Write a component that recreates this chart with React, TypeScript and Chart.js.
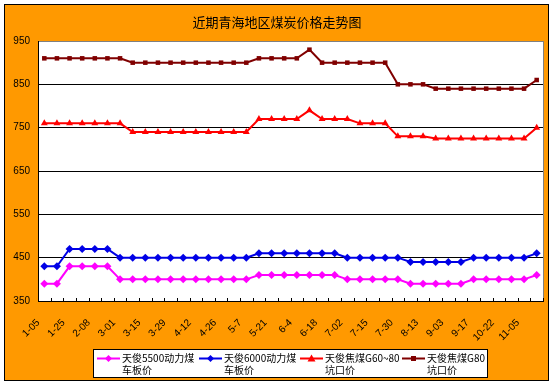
import React, { useEffect, useRef } from "react";
import { Chart, registerables } from "chart.js";

Chart.register(...registerables);

const titleText = "近期青海地区煤炭价格走势图";

const dateLabels = [
  "1-05", "1-25", "2-08", "3-01", "3-15", "3-29", "4-12", "4-26", "5-7", "5-21",
  "6-4", "6-18", "7-02", "7-15", "7-30", "8-13", "9-03", "9-17", "10-22", "11-05",
];
// 40 weekly points; only every other one carries a date label
const categories = dateLabels.flatMap((d) => [d, ""]);

const yMin = 350;
const yMax = 950;
const yStep = 100;

const tianjun5500 = [
  390, 390, 430, 430, 430, 430, 400, 400, 400, 400,
  400, 400, 400, 400, 400, 400, 400, 410, 410, 410,
  410, 410, 410, 410, 400, 400, 400, 400, 400, 390,
  390, 390, 390, 390, 400, 400, 400, 400, 400, 410,
];
const tianjun6000 = [
  430, 430, 470, 470, 470, 470, 450, 450, 450, 450,
  450, 450, 450, 450, 450, 450, 450, 460, 460, 460,
  460, 460, 460, 460, 450, 450, 450, 450, 450, 440,
  440, 440, 440, 440, 450, 450, 450, 450, 450, 460,
];
const jiaomeiG60_80 = [
  760, 760, 760, 760, 760, 760, 760, 740, 740, 740,
  740, 740, 740, 740, 740, 740, 740, 770, 770, 770,
  770, 790, 770, 770, 770, 760, 760, 760, 730, 730,
  730, 725, 725, 725, 725, 725, 725, 725, 725, 750,
];
const jiaomeiG80 = [
  910, 910, 910, 910, 910, 910, 910, 900, 900, 900,
  900, 900, 900, 900, 900, 900, 900, 910, 910, 910,
  910, 930, 900, 900, 900, 900, 900, 900, 850, 850,
  850, 840, 840, 840, 840, 840, 840, 840, 840, 860,
];

const seriesNames: string[][] = [
  ["天俊5500动力煤", "车板价"],
  ["天俊6000动力煤", "车板价"],
  ["天俊焦煤G60~80", "坑口价"],
  ["天俊焦煤G80", "坑口价"],
];
const seriesColors = ["#FF00FF", "#0000E6", "#FF0000", "#800000"];
const seriesPointStyles = ["rectRot", "rectRot", "triangle", "rect"];

const FONT = "'Noto Sans CJK SC', 'Liberation Sans', sans-serif";

function drawMarker(ctx: CanvasRenderingContext2D, style: string, x: number, y: number, color: string) {
  ctx.save();
  ctx.fillStyle = color;
  ctx.beginPath();
  if (style === "rectRot") {
    ctx.moveTo(x, y - 3.5);
    ctx.lineTo(x + 3.5, y);
    ctx.lineTo(x, y + 3.5);
    ctx.lineTo(x - 3.5, y);
  } else if (style === "triangle") {
    ctx.moveTo(x, y - 4);
    ctx.lineTo(x + 4, y + 3);
    ctx.lineTo(x - 4, y + 3);
  } else {
    ctx.rect(x - 2.5, y - 2.5, 5, 5);
  }
  ctx.closePath();
  ctx.fill();
  ctx.restore();
}

const framePlugin = {
  id: "frame",
  beforeDraw(chart: any) {
    const { ctx, chartArea } = chart;
    ctx.save();
    ctx.fillStyle = "#FFFFFF";
    ctx.fillRect(0, 0, chart.width, chart.height);
    ctx.fillStyle = "#FF9900";
    ctx.fillRect(4, 4, 545, 377);
    ctx.strokeStyle = "#000000";
    ctx.lineWidth = 1;
    ctx.strokeRect(4.5, 4.5, 544, 376);
    ctx.fillStyle = "#FFFFFF";
    ctx.fillRect(chartArea.left, chartArea.top, chartArea.right - chartArea.left, chartArea.bottom - chartArea.top);
    // title
    ctx.fillStyle = "#000000";
    ctx.font = `13px ${FONT}`;
    ctx.textAlign = "center";
    ctx.textBaseline = "middle";
    ctx.fillText(titleText, 277, 22);
    ctx.restore();
  },
  beforeDatasetsDraw(chart: any) {
    const { ctx, chartArea } = chart;
    const xs = chart.scales.x;
    ctx.save();
    // plot-area right border (gray)
    ctx.strokeStyle = "#808080";
    ctx.lineWidth = 1;
    ctx.beginPath();
    ctx.moveTo(Math.round(chartArea.right) + 0.5, chartArea.top);
    ctx.lineTo(Math.round(chartArea.right) + 0.5, chartArea.bottom);
    ctx.stroke();
    // inside tick marks between categories
    const half = (xs.getPixelForValue(1) - xs.getPixelForValue(0)) / 2;
    ctx.strokeStyle = "#000000";
    ctx.beginPath();
    for (let i = 0; i <= categories.length; i++) {
      const x = Math.round(xs.getPixelForValue(0) - half + i * half * 2) + 0.5;
      ctx.moveTo(x, chartArea.bottom);
      ctx.lineTo(x, chartArea.bottom - 3);
    }
    ctx.stroke();
    ctx.restore();
  },
  afterDraw(chart: any) {
    const { ctx } = chart;
    ctx.save();
    // legend box
    ctx.fillStyle = "#FFFFFF";
    ctx.fillRect(93, 349, 394, 28);
    ctx.strokeStyle = "#000000";
    ctx.lineWidth = 1;
    ctx.strokeRect(93.5, 349.5, 394, 28);
    const starts = [97, 199, 300, 402];
    ctx.font = `10px ${FONT}`;
    ctx.textAlign = "left";
    ctx.textBaseline = "middle";
    for (let i = 0; i < seriesNames.length; i++) {
      const x0 = starts[i];
      const y0 = 358.5;
      ctx.strokeStyle = seriesColors[i];
      ctx.lineWidth = 2;
      ctx.beginPath();
      ctx.moveTo(x0, y0);
      ctx.lineTo(x0 + 23, y0);
      ctx.stroke();
      drawMarker(ctx, seriesPointStyles[i], x0 + 11.5, y0, seriesColors[i]);
      ctx.fillStyle = "#000000";
      ctx.fillText(seriesNames[i][0], x0 + 25, 358.5);
      ctx.fillText(seriesNames[i][1], x0 + 25, 370.5);
    }
    ctx.restore();
  },
};

export default function App() {
  const ref = useRef<HTMLCanvasElement | null>(null);
  useEffect(() => {
    if (!ref.current) return;
    const seriesData = [tianjun5500, tianjun6000, jiaomeiG60_80, jiaomeiG80];
    const chart = new Chart(ref.current, {
      type: "line",
      data: {
        labels: categories,
        datasets: seriesData.map((d, i) => ({
          label: seriesNames[i].join(""),
          data: d,
          borderColor: seriesColors[i],
          backgroundColor: seriesColors[i],
          borderWidth: 2,
          pointStyle: seriesPointStyles[i] as any,
          pointRadius: i === 3 ? 3.2 : 4,
          pointBorderWidth: 0,
          tension: 0,
        })),
      },
      options: {
        responsive: false,
        animation: false,
        devicePixelRatio: 1,
        layout: { padding: { left: 0, top: 41, right: 12, bottom: 0 } },
        plugins: {
          legend: { display: false },
          title: { display: false },
          tooltip: { enabled: false },
        },
        scales: {
          x: {
            type: "category",
            offset: true,
            grid: { display: false, drawTicks: false, offset: true },
            border: { display: true, color: "#000000", width: 1 },
            ticks: {
              autoSkip: false,
              minRotation: 45,
              maxRotation: 45,
              padding: 16,
              labelOffset: -6,
              color: "#000000",
              font: { family: "'Liberation Sans', sans-serif", size: 10 },
            },
            afterFit(scale: any) {
              scale.height = 84;
              scale.paddingLeft = 0;
              scale.paddingRight = 0;
            },
          },
          y: {
            min: yMin,
            max: yMax,
            grid: {
              drawTicks: false,
              color: (c: any) => (c.tick && c.tick.value === yMax ? "#808080" : "#000000"),
              lineWidth: 1,
            },
            border: { display: true, color: "#000000", width: 1 },
            ticks: {
              stepSize: yStep,
              padding: 8,
              color: "#000000",
              font: { family: "'Liberation Sans', sans-serif", size: 10 },
            },
            afterFit(scale: any) {
              scale.width = 38;
            },
          },
        },
      },
      plugins: [framePlugin],
    });
    return () => chart.destroy();
  }, []);
  return (
    <div style={{ position: "absolute", left: 0, top: 0 }}>
      <canvas ref={ref} width={555} height={385} style={{ display: "block", width: 555, height: 385 }} />
    </div>
  );
}
